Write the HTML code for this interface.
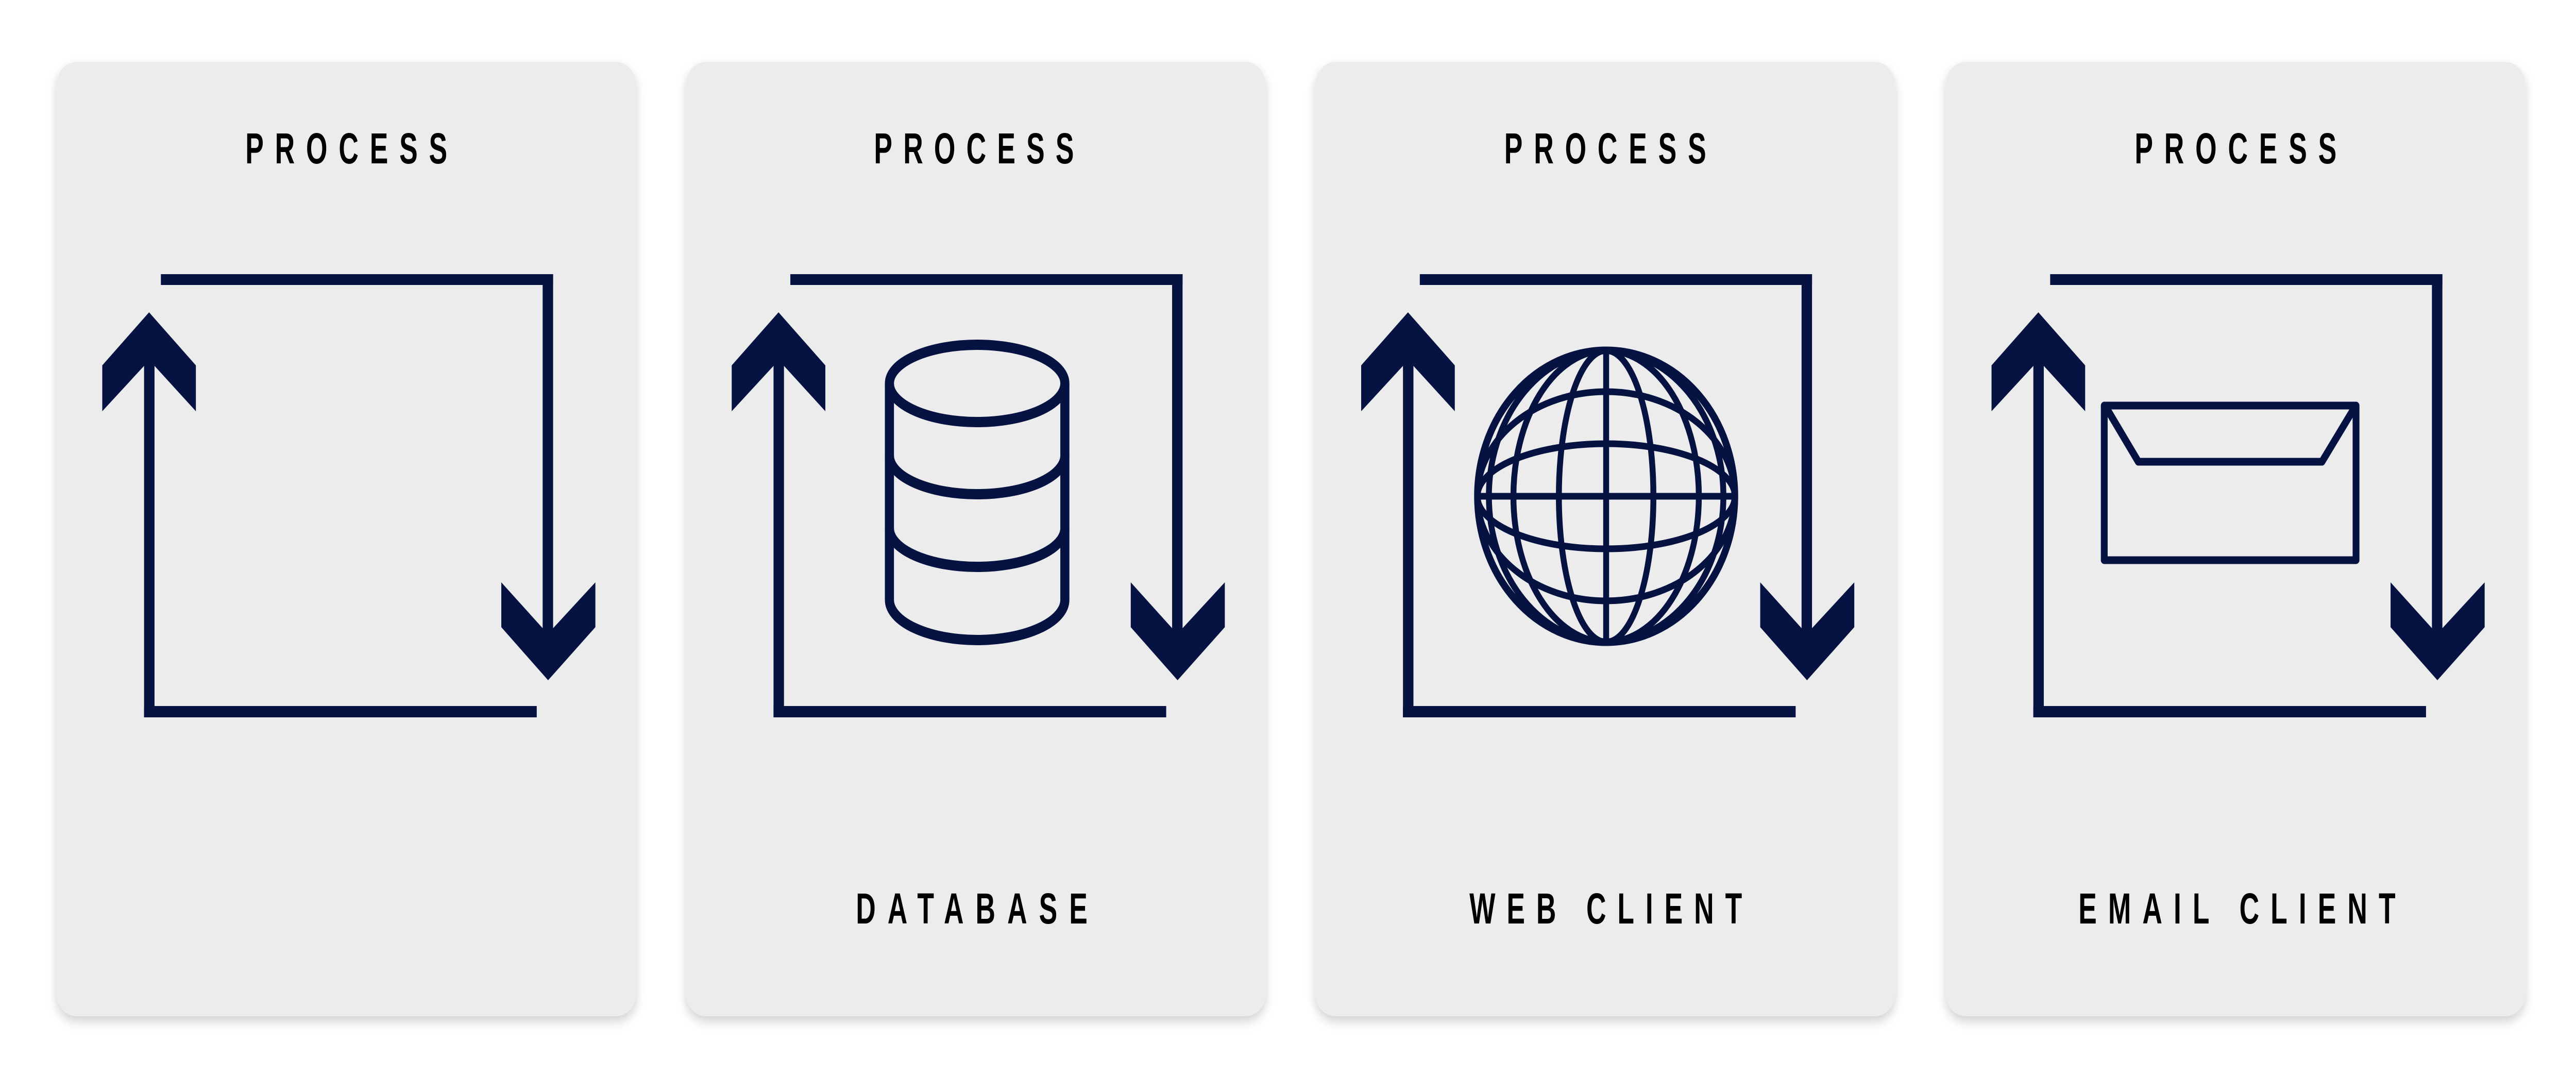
<!DOCTYPE html>
<html><head><meta charset="utf-8">
<style>
html,body{margin:0;padding:0;background:#fff;overflow:hidden;width:100%;height:100%;}
svg{display:block;width:100vw;height:100vh;}
text{font-family:"Liberation Sans",sans-serif;font-weight:700;fill:#000;}
</style></head>
<body>
<svg viewBox="0 0 5668 2086" preserveAspectRatio="none" xmlns="http://www.w3.org/2000/svg">
<defs>
<filter id="sh" x="-5%" y="-5%" width="110%" height="110%">
<feDropShadow dx="0" dy="10" stdDeviation="10" flood-color="#000" flood-opacity="0.18"/>
</filter>
<g id="loop" fill="#061342">
<rect x="230" y="532" width="863" height="21"/>
<rect x="1070" y="532" width="23" height="696"/>
<polygon points="979,1130 1070,1219 1093,1219 1186,1130 1186,1217 1082,1320 979,1217"/>
<rect x="193" y="706" width="23" height="686"/>
<rect x="193" y="1370" width="864" height="22"/>
<polygon points="101,709 204,606 307,709 307,798 216,710 193,710 101,798"/>
</g>
<clipPath id="gc"><circle cx="3534" cy="963" r="290"/></clipPath>
</defs>

<g filter="url(#sh)" fill="#ececec">
<rect x="124" y="120" width="1276" height="1852" rx="45"/>
<rect x="1509" y="120" width="1276" height="1852" rx="45"/>
<rect x="2894" y="120" width="1276" height="1852" rx="45"/>
<rect x="4281" y="120" width="1276" height="1852" rx="45"/>
</g>

<use href="#loop" x="124" y="0"/>
<use href="#loop" x="1509" y="0"/>
<use href="#loop" x="2894" y="0"/>
<use href="#loop" x="4281" y="0"/>

<g font-size="84">
<text transform="translate(762,317) scale(0.72,1)" text-anchor="middle" textLength="617" lengthAdjust="spacing">PROCESS</text>
<text transform="translate(2143,317) scale(0.72,1)" text-anchor="middle" textLength="611" lengthAdjust="spacing">PROCESS</text>
<text transform="translate(3532,317) scale(0.72,1)" text-anchor="middle" textLength="617" lengthAdjust="spacing">PROCESS</text>
<text transform="translate(4919,317) scale(0.72,1)" text-anchor="middle" textLength="617" lengthAdjust="spacing">PROCESS</text>
<text transform="translate(2138,1792) scale(0.72,1)" text-anchor="middle" textLength="708" lengthAdjust="spacing">DATABASE</text>
<text transform="translate(3533,1792) scale(0.72,1)" text-anchor="middle" textLength="833" lengthAdjust="spacing">WEB CLIENT</text>
<text transform="translate(4922,1792) scale(0.72,1)" text-anchor="middle" textLength="969" lengthAdjust="spacing">EMAIL CLIENT</text>
</g>

<!-- database -->
<g fill="none" stroke="#061342" stroke-width="20">
<ellipse cx="2150" cy="744" rx="193" ry="75"/>
<line x1="1957" y1="744" x2="1957" y2="1164"/>
<line x1="2343" y1="744" x2="2343" y2="1164"/>
<path d="M1957 884 A193 75 0 0 0 2343 884"/>
<path d="M1957 1025 A193 75 0 0 0 2343 1025"/>
<path d="M1957 1164 A193 78 0 0 0 2343 1164"/>
</g>

<!-- globe -->
<g fill="none" stroke="#061342" stroke-width="13">
<g clip-path="url(#gc)">
<line x1="3534" y1="670" x2="3534" y2="1256"/>
<line x1="3240" y1="963" x2="3828" y2="963"/>
<ellipse cx="3534" cy="963" rx="104" ry="283"/>
<ellipse cx="3534" cy="963" rx="204" ry="283"/>
<ellipse cx="3534" cy="963" rx="258" ry="283"/>
<ellipse cx="3534" cy="963" rx="283" ry="102"/>
<ellipse cx="3534" cy="963" rx="283" ry="203"/>
</g>
<circle cx="3534" cy="963" r="283" stroke-width="15"/>
</g>

<!-- envelope -->
<g fill="none" stroke="#061342" stroke-width="15" stroke-linejoin="round">
<rect x="4630" y="787" width="554" height="300"/>
<polyline points="4637,795 4705,896 5109,896 5178,795"/>
</g>
</svg>
</body></html>
